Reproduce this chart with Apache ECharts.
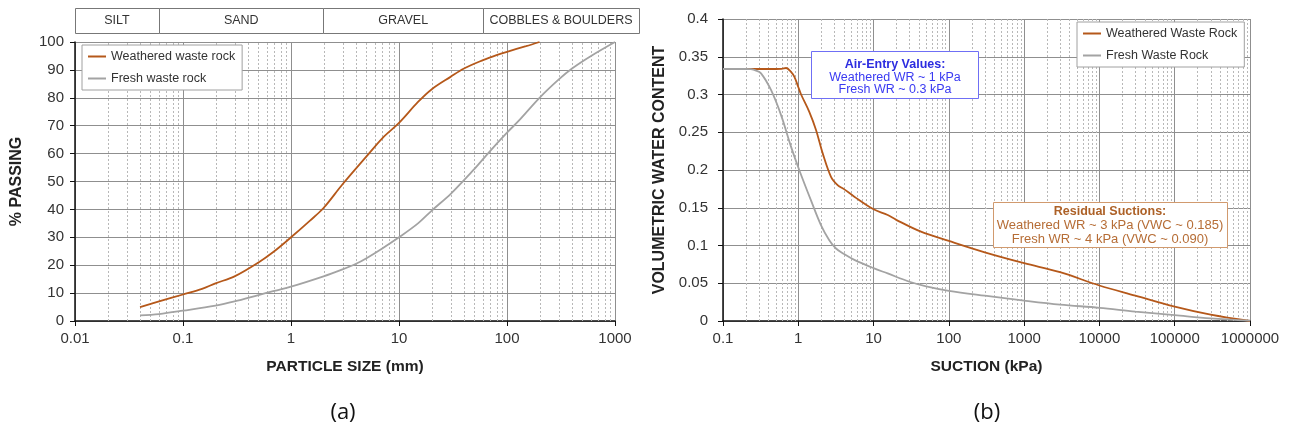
<!DOCTYPE html>
<html><head><meta charset="utf-8">
<script src="https://cdn.jsdelivr.net/npm/echarts@6/dist/echarts.min.js"></script>
<style>html,body{margin:0;padding:0;background:#fff}#c{width:1291px;height:436px}</style>
</head><body><div id="c"></div>
<script>
// ---- (a) particle size distribution ----
const psdWeatheredSize = [0.04, 0.06, 0.1, 0.15, 0.2, 0.3, 0.5, 0.7, 1, 1.5, 2, 3, 5, 7, 10, 15, 20, 30, 40, 60, 80, 100, 150, 200];
const psdWeatheredPassing = [5, 7, 9.5, 11.5, 13.5, 16, 21, 25, 30, 36, 40.5, 49, 59, 65.5, 71, 78.5, 83, 87.5, 90.5, 93.5, 95.3, 96.5, 98.5, 100];
const psdFreshSize = [0.04, 0.06, 0.1, 0.2, 0.3, 0.5, 0.7, 1, 2, 3, 4, 5, 7, 10, 15, 20, 30, 40, 50, 70, 100, 130, 200, 300, 400, 600, 1000];
const psdFreshPassing = [2, 2.5, 3.7, 5.5, 7, 9.3, 10.8, 12.3, 16, 18.5, 20.5, 22.5, 26, 30, 35, 39.5, 45.5, 50.5, 54.5, 61, 67.5, 72, 80, 86.5, 90.5, 95, 100];
const soilBounds = [0.01, 0.06, 2, 60, 1670];
const soilNames = ['SILT', 'SAND', 'GRAVEL', 'COBBLES & BOULDERS'];

// ---- (b) soil water characteristic curves ----
const swccWeatheredSuction = [0.1, 0.2, 0.3, 0.4, 0.5, 0.6, 0.69, 0.8, 0.885, 1, 1.09, 1.4, 1.72, 2.11, 2.72, 3.33, 4, 5.55, 10, 15.4, 20, 42.6, 100, 300, 1000, 3000, 10000, 30000, 100000, 300000, 1000000];
const swccWeatheredVWC = [0.3338, 0.3338, 0.3338, 0.3338, 0.3338, 0.334, 0.3351, 0.330, 0.3236, 0.31, 0.3, 0.277, 0.253, 0.222, 0.191, 0.18, 0.175, 0.1647, 0.148, 0.1404, 0.134, 0.1183, 0.106, 0.091, 0.0766, 0.0646, 0.047, 0.0336, 0.019, 0.0084, 0];
const swccFreshSuction = [0.1, 0.2, 0.235, 0.27, 0.32, 0.434, 0.589, 0.8, 1.03, 1.47, 2, 2.58, 3.17, 4, 5.55, 10, 15.4, 30, 50, 100, 300, 1000, 3000, 10000, 30000, 100000, 300000, 1000000];
const swccFreshVWC = [0.3338, 0.3338, 0.3335, 0.332, 0.328, 0.306, 0.273, 0.231, 0.2, 0.16, 0.127, 0.107, 0.096, 0.089, 0.081, 0.07, 0.063, 0.052, 0.046, 0.04, 0.0335, 0.027, 0.0217, 0.0175, 0.0125, 0.0078, 0.0035, 0.0005];

const zip = (a, b) => a.map((v, i) => [v, b[i]]);
const FONT = '"Liberation Sans", Arial, sans-serif';

function minorLines(lo, hi) {
  const out = [];
  for (let d = lo; d < hi; d++) for (let m = 2; m <= 9; m++) out.push(m * Math.pow(10, d));
  return out;
}
function minorSeries(xi, yi, values, ymin, ymax) {
  return {
    type: 'custom', xAxisIndex: xi, yAxisIndex: yi, silent: true, z: 1,
    data: values.map(v => [v, ymin]), encode: { x: 0, y: 1 },
    renderItem: (params, api) => {
      const p1 = api.coord([api.value(0), ymin]);
      const p2 = api.coord([api.value(0), ymax]);
      return { type: 'line', shape: { x1: Math.round(p1[0]) + 0.5, y1: p1[1], x2: Math.round(p2[0]) + 0.5, y2: p2[1] },
        style: { stroke: '#b8b8b8', lineWidth: 1, lineDash: [2, 2] } };
    }
  };
}
const fmt = v => String(+(+v).toPrecision(6));
const logX = (min, max, name) => ({
  type: 'log', logBase: 10, min, max, name, nameLocation: 'middle', nameGap: 38,
  nameTextStyle: { fontFamily: FONT, fontWeight: 'bold', fontSize: 15.5, color: '#222' },
  axisLine: { lineStyle: { color: '#111', width: 1.5 } },
  axisTick: { show: true, length: 5, lineStyle: { color: '#111' } },
  axisLabel: { fontFamily: FONT, fontSize: 15, color: '#333', margin: 10, formatter: fmt, showMinLabel: true, showMaxLabel: true },
  splitLine: { show: true, lineStyle: { color: '#8f8f8f', width: 1 } },
  minorTick: { show: false }
});
const valY = (min, max, interval, name, gap, margin) => ({
  type: 'value', min, max, interval, name, nameLocation: 'middle', nameGap: gap,
  nameTextStyle: { fontFamily: FONT, fontWeight: 'bold', fontSize: 16, color: '#222' },
  axisLine: { show: true, lineStyle: { color: '#111', width: 1.5 } },
  axisTick: { show: true, length: 5, lineStyle: { color: '#111' } },
  axisLabel: { fontFamily: FONT, fontSize: 15, color: '#333', margin },
  splitLine: { show: true, lineStyle: { color: '#8f8f8f', width: 1 } }
});

const ORANGE = '#b5581a', GRAY = '#a3a3a3';
const lineS = (name, xi, yi, data, color) => ({
  name, type: 'line', xAxisIndex: xi, yAxisIndex: yi, data, smooth: 0.35, showSymbol: false, symbol: 'none', z: 3,
  lineStyle: { color, width: 1.8 }, itemStyle: { color }, silent: true
});
const legendStyle = (left, top, names) => ({
  left, top, orient: 'vertical', data: names, icon: 'rect', itemWidth: 18, itemHeight: 2, itemGap: 9,
  backgroundColor: '#fff', borderColor: '#a0a0a0', borderWidth: 1, borderRadius: 0, padding: [5, 7, 5, 6],
  textStyle: { fontFamily: FONT, fontSize: 12.5, color: '#333' }, selectedMode: false, z: 20
});

const chart = echarts.init(document.getElementById('c'), null, { renderer: 'canvas' });
chart.setOption({
  animation: false,
  textStyle: { fontFamily: FONT },
  grid: [
    { left: 75, top: 42, width: 540, height: 279 },
    { left: 723, top: 19, width: 527, height: 302 },
    { left: 75, top: 8, width: 564, height: 25 }
  ],
  xAxis: [
    logX(0.01, 1000, 'PARTICLE SIZE (mm)'),
    Object.assign(logX(0.1, 1000000, 'SUCTION (kPa)'), { gridIndex: 1 }),
    { type: 'log', gridIndex: 2, min: soilBounds[0], max: soilBounds[soilBounds.length - 1], show: false }
  ],
  yAxis: [
    valY(0, 100, 10, '% PASSING', 50, 11),
    Object.assign(valY(0, 0.4, 0.05, 'VOLUMETRIC WATER CONTENT', 55, 15), { gridIndex: 1 }),
    { type: 'value', gridIndex: 2, min: 0, max: 1, show: false }
  ],
  legend: [
    legendStyle(82, 45, ['Weathered waste rock', 'Fresh waste rock']),
    legendStyle(1077, 22, ['Weathered Waste Rock', 'Fresh Waste Rock'])
  ],
  series: [
    minorSeries(0, 0, minorLines(-2, 3), 0, 100),
    minorSeries(1, 1, minorLines(-1, 6), 0, 0.4),
    lineS('Weathered waste rock', 0, 0, zip(psdWeatheredSize, psdWeatheredPassing), ORANGE),
    lineS('Fresh waste rock', 0, 0, zip(psdFreshSize, psdFreshPassing), GRAY),
    lineS('Weathered Waste Rock', 1, 1, zip(swccWeatheredSuction, swccWeatheredVWC), ORANGE),
    lineS('Fresh Waste Rock', 1, 1, zip(swccFreshSuction, swccFreshVWC), GRAY),
    {
      type: 'custom', xAxisIndex: 2, yAxisIndex: 2, silent: true,
      data: soilNames.map((n, i) => [soilBounds[i], soilBounds[i + 1]]), encode: { x: [0, 1] },
      renderItem: (params, api) => {
        const a = api.coord([api.value(0), 1]);
        const b = api.coord([api.value(1), 0]);
        return { type: 'group', children: [
          { type: 'rect', shape: { x: Math.round(a[0]) + 0.5, y: Math.round(a[1]) + 0.5, width: Math.round(b[0] - a[0]), height: Math.round(b[1] - a[1]) },
            style: { fill: '#fff', stroke: '#777', lineWidth: 1 } },
          { type: 'text', x: (a[0] + b[0]) / 2, y: (a[1] + b[1]) / 2,
            style: { text: soilNames[params.dataIndex], fill: '#333', font: '12.5px ' + FONT, align: 'center', verticalAlign: 'middle' } }
        ] };
      }
    }
  ],
  graphic: [
    { type: 'rect', z: 50, shape: { x: 811.5, y: 51.5, width: 167, height: 47 }, style: { fill: '#fff', stroke: '#6f6ff5', lineWidth: 1 } },
    { type: 'text', z: 51, x: 895, y: 65, style: { text: 'Air-Entry Values:', fill: '#2c2ce0', font: 'bold 12.5px ' + FONT, align: 'center', verticalAlign: 'middle' } },
    { type: 'text', z: 51, x: 895, y: 77.5, style: { text: 'Weathered WR ~ 1 kPa', fill: '#3a3af2', font: '12.5px ' + FONT, align: 'center', verticalAlign: 'middle' } },
    { type: 'text', z: 51, x: 895, y: 90, style: { text: 'Fresh WR ~ 0.3 kPa', fill: '#3a3af2', font: '12.5px ' + FONT, align: 'center', verticalAlign: 'middle' } },
    { type: 'rect', z: 50, shape: { x: 993.5, y: 202.5, width: 234, height: 45 }, style: { fill: '#fff', stroke: '#d19a6e', lineWidth: 1 } },
    { type: 'text', z: 51, x: 1110, y: 212, style: { text: 'Residual Suctions:', fill: '#ad6127', font: 'bold 12.5px ' + FONT, align: 'center', verticalAlign: 'middle' } },
    { type: 'text', z: 51, x: 1110, y: 225.5, style: { text: 'Weathered WR ~ 3 kPa (VWC ~ 0.185)', fill: '#b66d36', font: '13px ' + FONT, align: 'center', verticalAlign: 'middle' } },
    { type: 'text', z: 51, x: 1110, y: 239, style: { text: 'Fresh WR ~ 4 kPa (VWC ~ 0.090)', fill: '#b66d36', font: '13px ' + FONT, align: 'center', verticalAlign: 'middle' } },
    { type: 'text', z: 51, x: 343, y: 413, style: { text: '(a)', fill: '#111', font: '22px "Open Sans", ' + FONT, align: 'center', verticalAlign: 'middle' } },
    { type: 'text', z: 51, x: 987, y: 413, style: { text: '(b)', fill: '#111', font: '22px "Open Sans", ' + FONT, align: 'center', verticalAlign: 'middle' } }
  ]
});
</script></body></html>
